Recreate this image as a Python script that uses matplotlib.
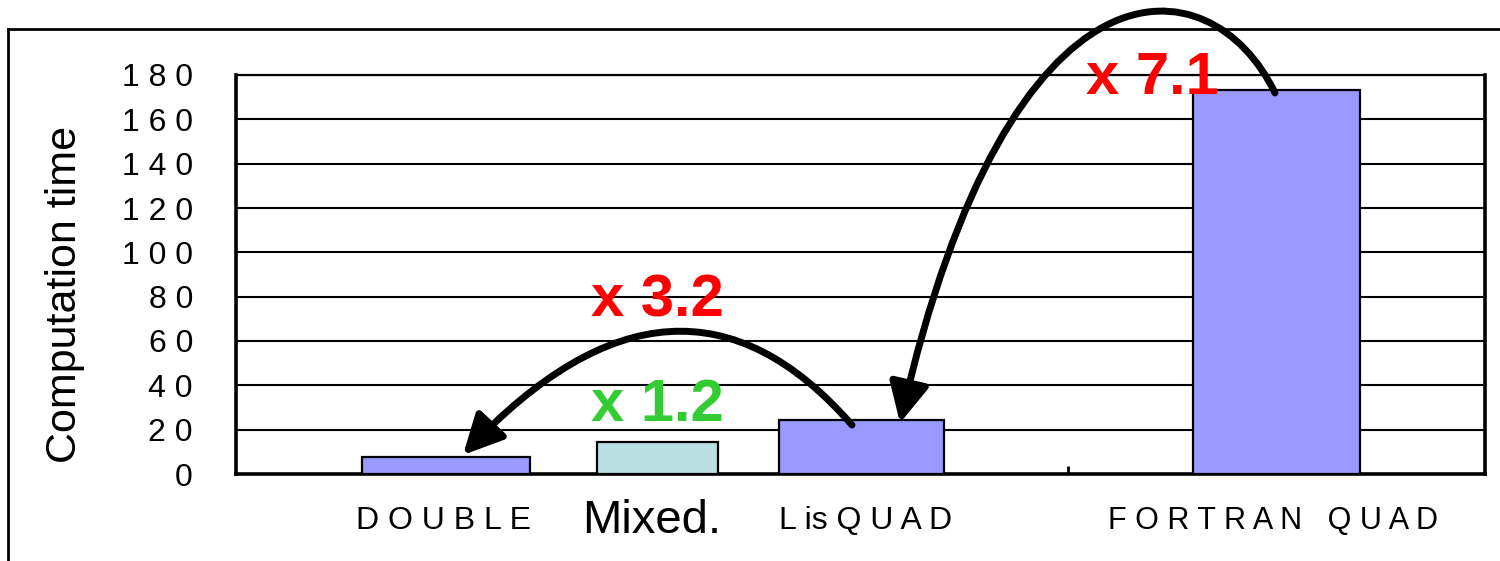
import numpy as np
import matplotlib.pyplot as plt
from matplotlib.patches import FancyArrowPatch, ArrowStyle
from matplotlib.path import Path
from matplotlib.lines import Line2D
from matplotlib.ticker import FuncFormatter
import matplotlib.transforms as mtransforms

plt.rcParams['font.family'] = ['Liberation Sans', 'DejaVu Sans']

# data
categories = ["DOUBLE", "Mixed.", "Lis QUAD", "FORTRAN QUAD"]
times = [7.5, 14.6, 24.4, 173.2]
ratio_labels = ["x 3.2", "x 1.2", "x 7.1"]

# layout (x axis in units of 100 px)
positions = [2.10, 4.21, 6.255, 10.405]
widths = [1.68, 1.21, 1.65, 1.67]
colors = ["#9999FF", "#BADFE3", "#9999FF", "#9999FF"]
label_text = ["D O U B L E", "Mixed.", "L is Q U A D", "F O R T R A N   Q U A D"]
label_size = [23, 34, 23, 22]
label_dx = [-0.03, -0.05, 0.04, -0.04]

fig = plt.figure(figsize=(15, 5.61), dpi=100)
ax = fig.add_axes([236 / 1500, 1 - 474 / 561, 1249 / 1500, 399 / 561])

ax.bar(positions, times, width=widths, color=colors, edgecolor="black",
       linewidth=1.6, zorder=3)

ax.set_xlim(0, 12.49)
ax.set_ylim(0, 180)
ax.set_yticks(np.arange(0, 181, 20))
ax.yaxis.set_major_formatter(FuncFormatter(lambda v, _: " ".join(str(int(v)))))
ax.tick_params(axis="y", length=0, pad=31, labelsize=23)
ax.grid(axis="y", color="black", linewidth=1.5, zorder=1)

ax.set_xticks([])
ax.set_xticks([4.21, 8.32], minor=True)
ax.tick_params(axis="x", which="minor", direction="in", length=6, width=2)

for side in ["left", "bottom", "right"]:
    ax.spines[side].set_linewidth(2.6)
ax.spines["top"].set_linewidth(1.6)

ax.set_ylabel("Computation time", fontsize=31)
ax.yaxis.set_label_coords(-0.121, 0.449)

trans = mtransforms.blended_transform_factory(ax.transData, ax.transAxes)
for x, txt, size, dx in zip(positions, label_text, label_size, label_dx):
    ax.text(x + dx, -0.117, txt, transform=trans, ha="center", va="center",
            fontsize=size)

# ratio annotations
ax.text(4.21, 78, ratio_labels[0], color="#FF0000", fontsize=43,
        fontweight="bold", ha="center", va="center", zorder=5)
ax.text(4.21, 31, ratio_labels[1], color="#33CC33", fontsize=43,
        fontweight="bold", ha="center", va="center", zorder=5)
ax.text(9.16, 178.6, ratio_labels[2], color="#FF0000", fontsize=43,
        fontweight="bold", ha="center", va="center", zorder=5, clip_on=False)

style = ArrowStyle("-|>", head_length=0.6, head_width=0.3)
curve1 = Path([(6.16, 22.1), (4.425, 111.9), (2.27, 8.6)],
              [Path.MOVETO, Path.CURVE3, Path.CURVE3])
curve2 = Path([(10.39, 171.9), (9.75, 231.9), (7.74, 240.9), (6.64, 23.0)],
              [Path.MOVETO, Path.CURVE4, Path.CURVE4, Path.CURVE4])
for p in (curve1, curve2):
    arr = FancyArrowPatch(path=p, arrowstyle=style, mutation_scale=40,
                          color="black", linewidth=5, zorder=6, clip_on=False,
                          transform=ax.transData)
    ax.add_patch(arr)

# outer frame (top and left edges)
fig.add_artist(Line2D([8 / 1500, 8 / 1500], [0, 1 - 29 / 561], color="black",
                      linewidth=2, transform=fig.transFigure))
fig.add_artist(Line2D([8 / 1500, 1], [1 - 29 / 561, 1 - 29 / 561], color="black",
                      linewidth=2, transform=fig.transFigure))

fig.savefig("out.png", dpi=100)
